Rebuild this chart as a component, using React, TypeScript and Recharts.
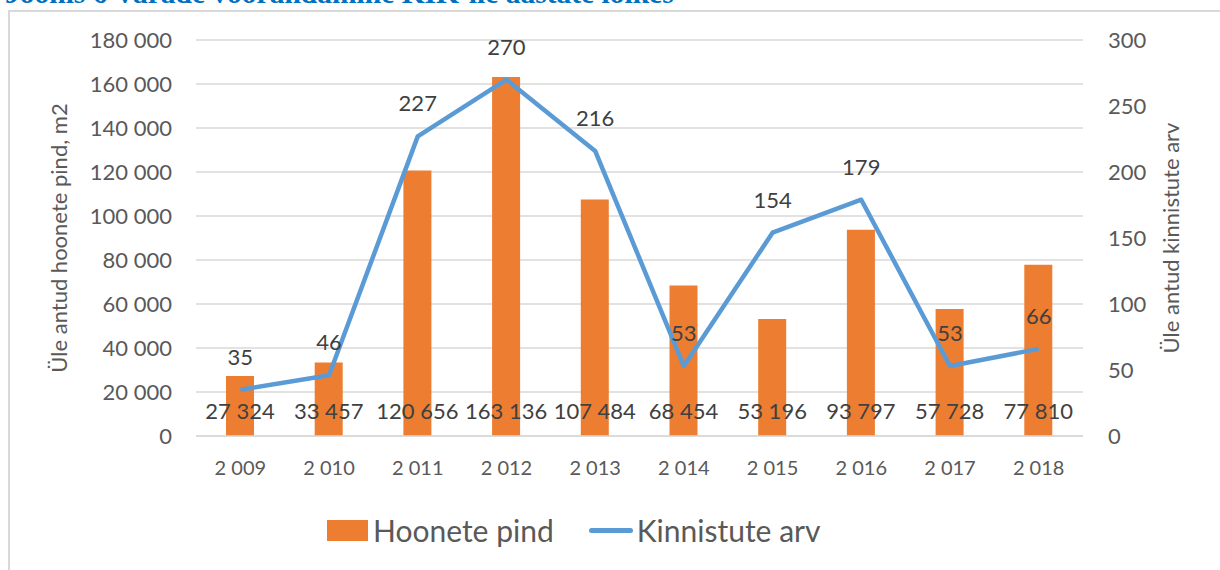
import React from 'react';
import {
  ComposedChart,
  Bar,
  Line,
  XAxis,
  YAxis,
  CartesianGrid,
  LabelList,
  Label,
} from 'recharts';

const years = [2009, 2010, 2011, 2012, 2013, 2014, 2015, 2016, 2017, 2018];
const hoonetePind = [27324, 33457, 120656, 163136, 107484, 68454, 53196, 93797, 57728, 77810];
const kinnistuteArv = [35, 46, 227, 270, 216, 53, 154, 179, 53, 66];
const leftTicks = [0, 20000, 40000, 60000, 80000, 100000, 120000, 140000, 160000, 180000];
const rightTicks = [0, 50, 100, 150, 200, 250, 300];

const titleText = 'Joonis 6 Varade võõrandamine KIK-ile aastate lõikes';
const leftAxisTitle = 'Üle antud hoonete pind, m2';
const rightAxisTitle = 'Üle antud kinnistute arv';
const seriesNames = ['Hoonete pind', 'Kinnistute arv'];

const ORANGE = '#ED7D31';
const BLUE = '#5B9BD5';
const TICK = '#595959';
const LABEL = '#404040';
const GRID = '#D9D9D9';

const fmt = (n: number) => String(n).replace(/\B(?=(\d{3})+(?!\d))/g, ' ');

const data = years.map((y, i) => ({
  year: y,
  pind: hoonetePind[i],
  arv: kinnistuteArv[i],
}));

const axisTitle = (text: string, dxFromAxis: number) => (props: any) => {
  const vb = props.viewBox || {};
  const cx = vb.x + dxFromAxis;
  const cy = vb.y + vb.height / 2;
  return (
    <text
      x={cx}
      y={cy}
      transform={`rotate(-90 ${cx} ${cy})`}
      textAnchor="middle"
      dominantBaseline="central"
      fill={TICK}
      fontSize={22}
      fontFamily="Lato"
    >
      {text}
    </text>
  );
};

const barLabel = (props: any) => {
  const { x, y, width, height, value } = props;
  return (
    <text
      x={Number(x) + Number(width) / 2}
      y={Number(y) + Number(height) - 17}
      textAnchor="middle"
      fill={LABEL}
      fontSize={22}
      fontFamily="Lato"
    >
      {fmt(Number(value))}
    </text>
  );
};

export default function App() {
  return (
    <div
      style={{
        position: 'absolute',
        left: 0,
        top: 0,
        width: 1220,
        height: 570,
        overflow: 'hidden',
        background: '#fff',
        fontFamily: 'Lato',
      }}
    >
      <div
        style={{
          position: 'absolute',
          left: 5,
          top: -22,
          fontFamily: '"Liberation Serif"',
          fontWeight: 'bold',
          fontSize: 29.5,
          lineHeight: '30px',
          color: '#0070C0',
          whiteSpace: 'nowrap',
        }}
      >
        {titleText}
      </div>
      <div
        style={{
          position: 'absolute',
          left: 8,
          top: 10,
          width: 1230,
          height: 600,
          borderLeft: '2px solid #D9D9D9',
          borderTop: '2px solid #D9D9D9',
        }}
      />
      <div style={{ position: 'absolute', left: 0, top: 0 }}>
        <ComposedChart
          width={1220}
          height={570}
          data={data}
          margin={{ top: 40, right: 0, bottom: 104, left: 0 }}
        >
          <CartesianGrid vertical={false} stroke={GRID} strokeWidth={1.5} yAxisId="left" />
          <XAxis
            dataKey="year"
            height={30}
            tickFormatter={fmt}
            axisLine={{ stroke: GRID, strokeWidth: 1.5 }}
            tickLine={false}
            tickSize={0}
            tickMargin={25}
            tick={{ fill: TICK, fontSize: 20, fontFamily: 'Lato' }}
            interval={0}
          />
          <YAxis
            yAxisId="left"
            orientation="left"
            width={196}
            domain={[0, 180000]}
            ticks={leftTicks}
            tickFormatter={fmt}
            axisLine={false}
            tickLine={false}
            tickSize={0}
            tickMargin={24}
            tick={{ fill: TICK, fontSize: 22, fontFamily: 'Lato' }}
            interval={0}
          >
            <Label content={axisTitle(leftAxisTitle, 58)} />
          </YAxis>
          <YAxis
            yAxisId="right"
            orientation="right"
            width={137}
            domain={[0, 300]}
            ticks={rightTicks}
            axisLine={false}
            tickLine={false}
            tickSize={0}
            tickMargin={25}
            tick={{ fill: TICK, fontSize: 22, fontFamily: 'Lato' }}
            interval={0}
          >
            <Label content={axisTitle(rightAxisTitle, 87)} />
          </YAxis>
          <Bar
            yAxisId="left"
            dataKey="pind"
            name={seriesNames[0]}
            fill={ORANGE}
            barSize={28}
            isAnimationActive={false}
          >
            <LabelList dataKey="pind" content={barLabel} />
          </Bar>
          <Line
            yAxisId="right"
            type="linear"
            dataKey="arv"
            name={seriesNames[1]}
            stroke={BLUE}
            strokeWidth={4.5}
            strokeLinejoin="round"
            dot={false}
            activeDot={false}
            isAnimationActive={false}
          >
            <LabelList
              dataKey="arv"
              position="top"
              offset={25}
              fill={LABEL}
              fontSize={22}
              fontFamily="Lato"
            />
          </Line>
        </ComposedChart>
      </div>
      <div
        style={{
          position: 'absolute',
          left: 327,
          top: 514,
          display: 'flex',
          alignItems: 'center',
          fontFamily: 'Lato',
          fontSize: 30,
          color: TICK,
          lineHeight: '32px',
          whiteSpace: 'nowrap',
        }}
      >
        <div style={{ width: 41, height: 21, background: ORANGE, marginRight: 5 }} />
        <span style={{ marginRight: 35 }}>{seriesNames[0]}</span>
        <div
          style={{ width: 44, height: 5, background: BLUE, borderRadius: 3, marginRight: 4 }}
        />
        <span>{seriesNames[1]}</span>
      </div>
    </div>
  );
}
